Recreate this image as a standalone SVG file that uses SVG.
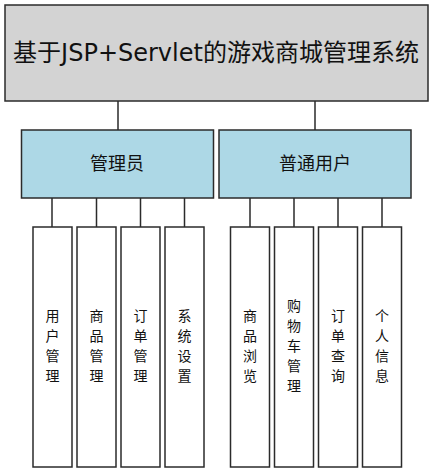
<svg xmlns="http://www.w3.org/2000/svg" width="433" height="473" viewBox="0 0 433 473">
<style>
  .box{stroke:#2b2b2b;stroke-width:1.5}
  .root{fill:#d3d3d3}
  .mid{fill:#add8e6}
  .leaf{fill:#ffffff}
  .conn{stroke:#2b2b2b;stroke-width:1.5;fill:none}
  text{font-family:"Noto Sans CJK SC","Noto Sans",sans-serif;fill:#111;text-anchor:middle}
  .t1{font-size:24px}
  .t2{font-size:18px}
  .t3{font-size:14px}
  .lat{font-family:"DejaVu Sans",sans-serif}
</style>
<rect x="0" y="0" width="433" height="473" fill="#ffffff"/>
<g id="connectors">
  <path class="conn" d="M118 101V130M315 101V130"/>
  <path class="conn" d="M52 198V227M96.5 198V227M140.5 198V227M184.5 198V227"/>
  <path class="conn" d="M250 198V227M294 198V227M338 198V227M382 198V227"/>
</g>
<g id="root">
  <rect class="box root" x="5" y="5" width="423" height="96"/>
  <text class="t1" x="216" y="61">基于<tspan class="lat">JSP+Servlet</tspan>的游戏商城管理系统</text>
</g>
<g id="admin">
  <rect class="box mid" x="21.5" y="130" width="192" height="68"/>
  <text class="t2" x="117" y="170">管理员</text>
</g>
<g id="user">
  <rect class="box mid" x="219" y="130" width="192" height="68"/>
  <text class="t2" x="315" y="170">普通用户</text>
</g>
<g id="leaf1">
  <rect class="box leaf" x="33" y="227" width="39" height="240"/>
  <text class="t3" x="52.5"><tspan x="52.5" y="321">用</tspan><tspan x="52.5" y="341">户</tspan><tspan x="52.5" y="361">管</tspan><tspan x="52.5" y="381">理</tspan></text>
</g>
<g id="leaf2">
  <rect class="box leaf" x="77" y="227" width="39" height="240"/>
  <text class="t3" x="96.5"><tspan x="96.5" y="321">商</tspan><tspan x="96.5" y="341">品</tspan><tspan x="96.5" y="361">管</tspan><tspan x="96.5" y="381">理</tspan></text>
</g>
<g id="leaf3">
  <rect class="box leaf" x="121" y="227" width="39" height="240"/>
  <text class="t3" x="140.5"><tspan x="140.5" y="321">订</tspan><tspan x="140.5" y="341">单</tspan><tspan x="140.5" y="361">管</tspan><tspan x="140.5" y="381">理</tspan></text>
</g>
<g id="leaf4">
  <rect class="box leaf" x="165" y="227" width="39" height="240"/>
  <text class="t3" x="184.5"><tspan x="184.5" y="321">系</tspan><tspan x="184.5" y="341">统</tspan><tspan x="184.5" y="361">设</tspan><tspan x="184.5" y="381">置</tspan></text>
</g>
<g id="leaf5">
  <rect class="box leaf" x="230.5" y="227" width="39" height="240"/>
  <text class="t3" x="250"><tspan x="250" y="321">商</tspan><tspan x="250" y="341">品</tspan><tspan x="250" y="361">浏</tspan><tspan x="250" y="381">览</tspan></text>
</g>
<g id="leaf6">
  <rect class="box leaf" x="274.5" y="227" width="39" height="240"/>
  <text class="t3" x="294"><tspan x="294" y="311">购</tspan><tspan x="294" y="331">物</tspan><tspan x="294" y="351">车</tspan><tspan x="294" y="371">管</tspan><tspan x="294" y="391">理</tspan></text>
</g>
<g id="leaf7">
  <rect class="box leaf" x="318.5" y="227" width="39" height="240"/>
  <text class="t3" x="338"><tspan x="338" y="321">订</tspan><tspan x="338" y="341">单</tspan><tspan x="338" y="361">查</tspan><tspan x="338" y="381">询</tspan></text>
</g>
<g id="leaf8">
  <rect class="box leaf" x="362.5" y="227" width="39" height="240"/>
  <text class="t3" x="382"><tspan x="382" y="321">个</tspan><tspan x="382" y="341">人</tspan><tspan x="382" y="361">信</tspan><tspan x="382" y="381">息</tspan></text>
</g>
</svg>
